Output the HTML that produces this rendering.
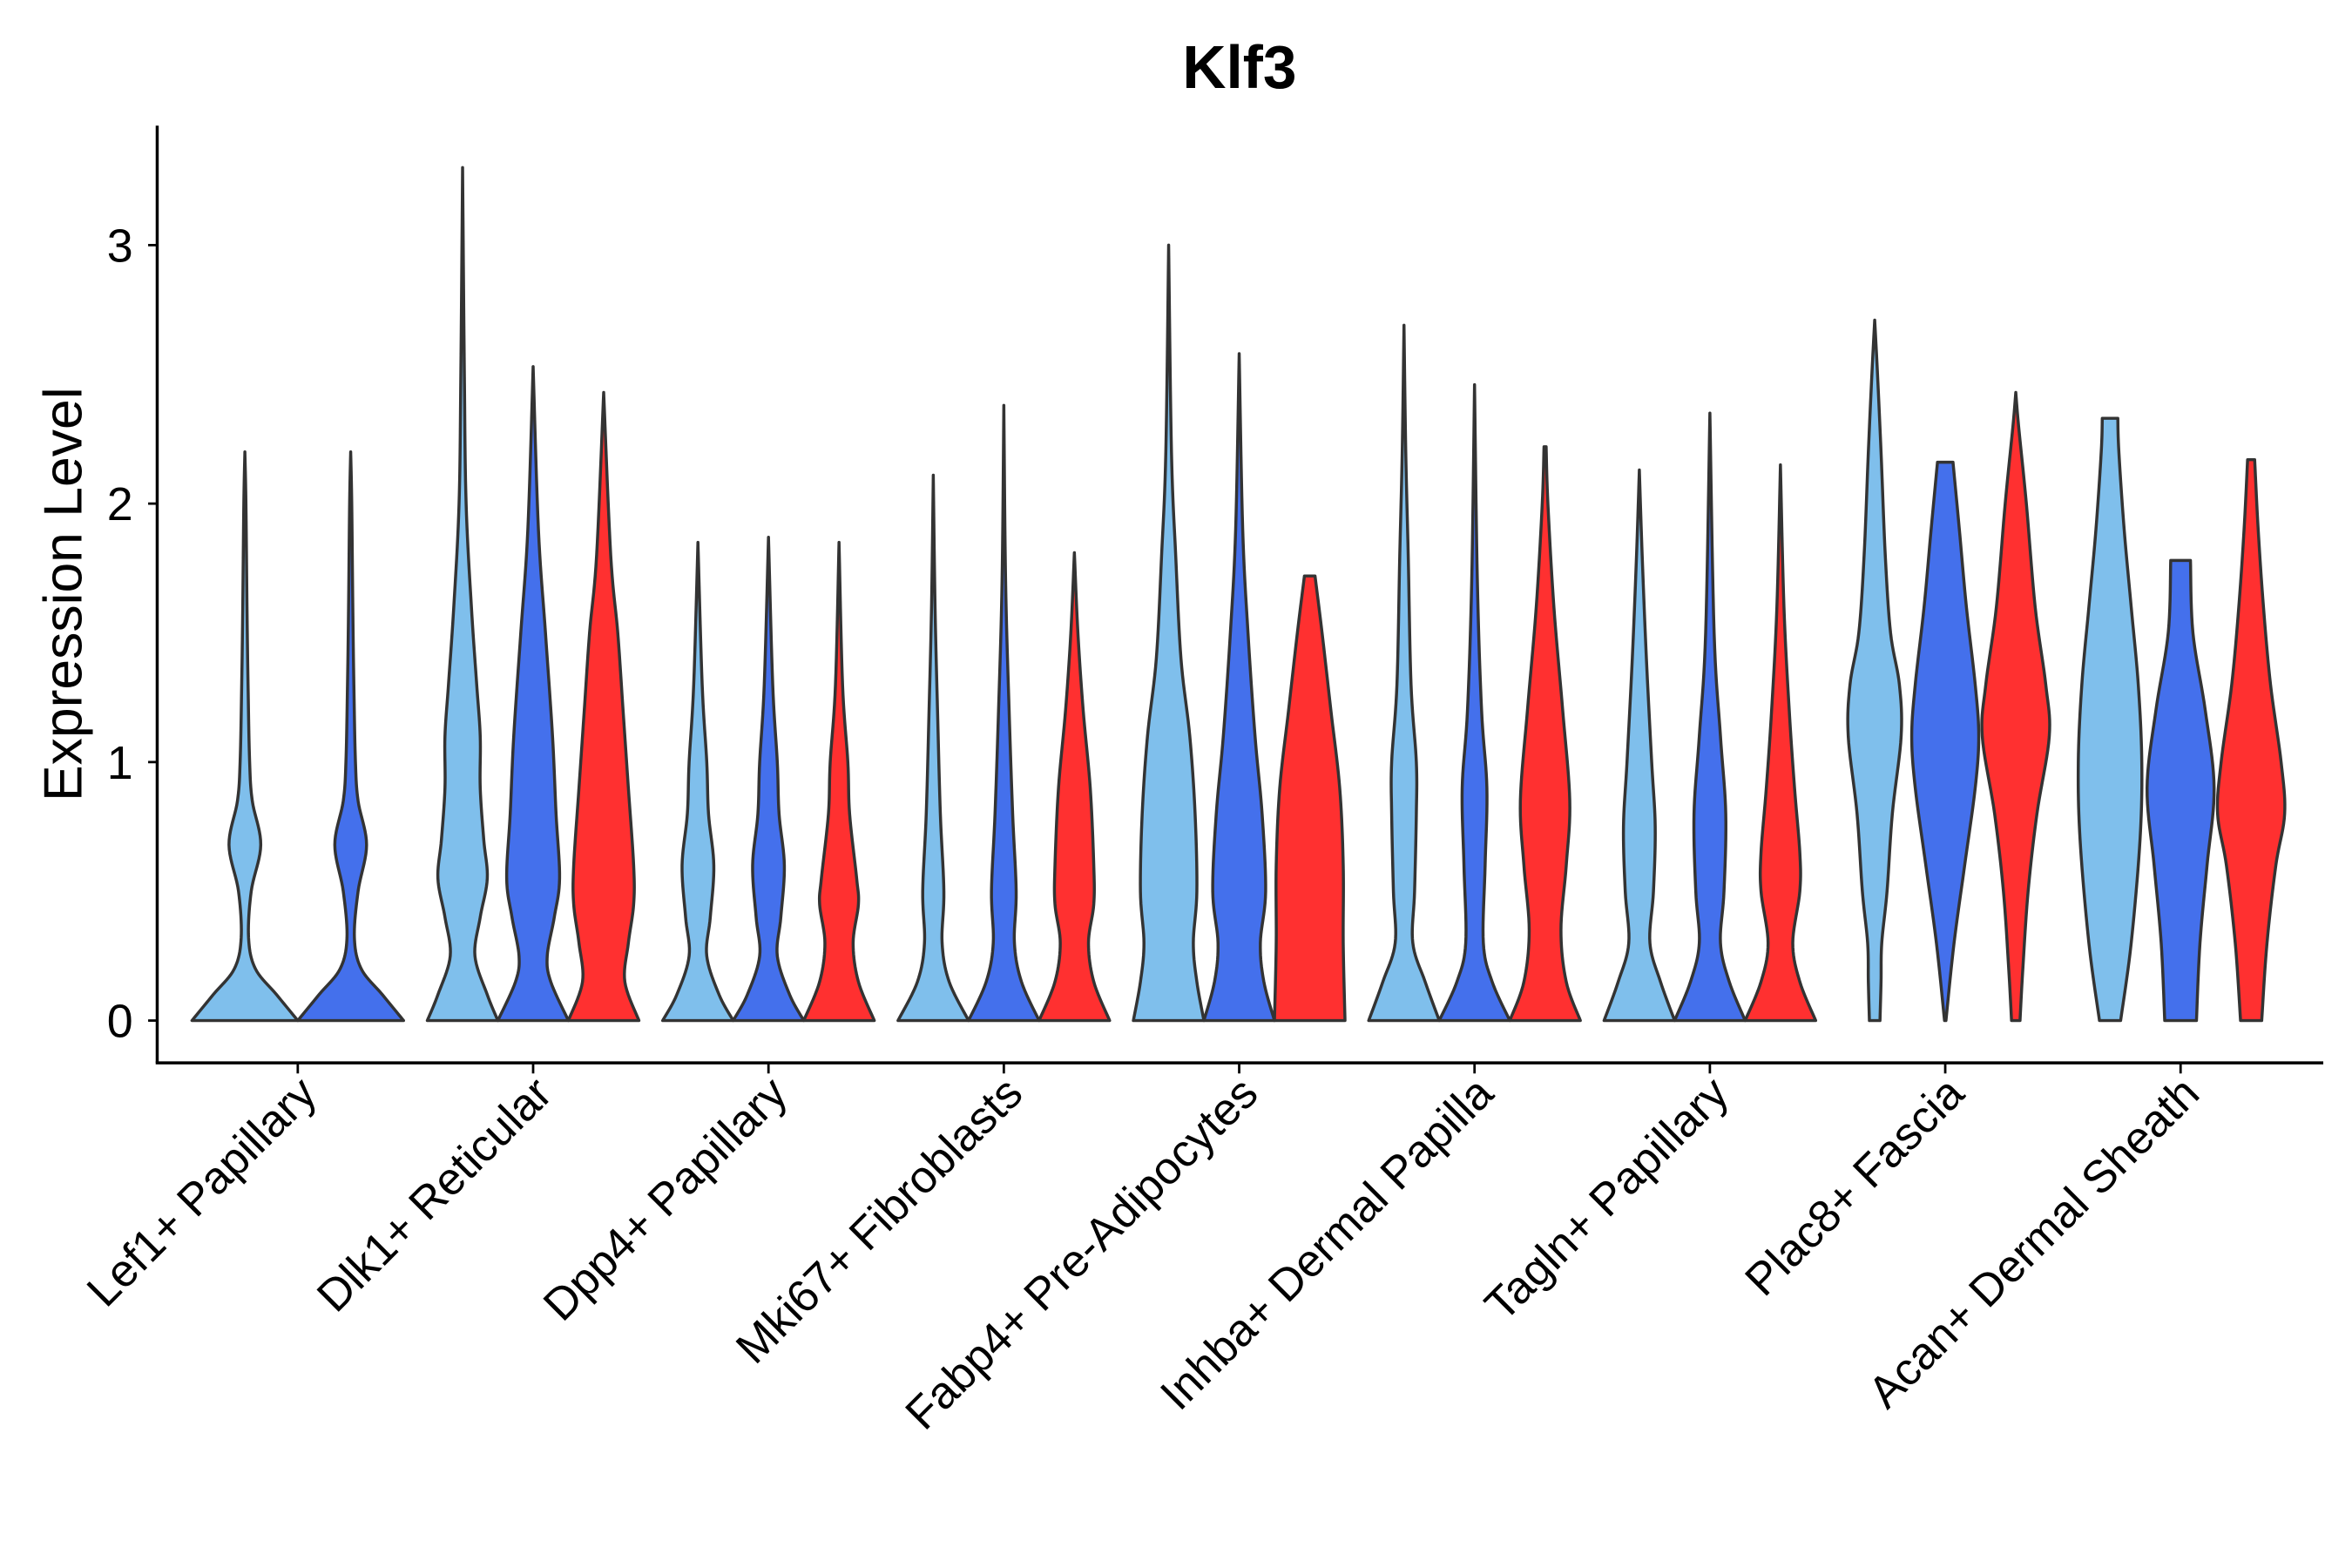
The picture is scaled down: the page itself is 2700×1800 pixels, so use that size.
<!DOCTYPE html>
<html><head><meta charset="utf-8"><style>
html,body{margin:0;padding:0;background:#fff}
svg{display:block}
text{font-family:"Liberation Sans","DejaVu Sans",sans-serif}
</style></head><body>
<svg id="chart" width="2700" height="1800" viewBox="0 0 1556 1037" xmlns="http://www.w3.org/2000/svg">
<rect width="1556" height="1037" fill="#fff"/>
<text x="820" y="58" text-anchor="middle" font-size="40" font-weight="bold">Klf3</text>
<text transform="translate(54,393) rotate(-90)" text-anchor="middle" font-size="36">Expression Level</text>
<g id="plot"></g>
</svg>
<script>
const categories = ["Lef1+ Papillary","Dlk1+ Reticular","Dpp4+ Papillary","Mki67+ Fibroblasts","Fabp4+ Pre-Adipocytes","Inhba+ Dermal Papilla","Tagln+ Papillary","Plac8+ Fascia","Acan+ Dermal Sheath"];
const seriesNames = ["light-blue","blue","red"];
const yTicks = [0,1,2,3];
// density profiles: [value, relative half-width]
const lightBlue = [
 [[0,1],[0.1,0.6],[0.2,0.2],[0.32,0.07],[0.5,0.12],[0.68,0.3],[0.85,0.14],[1.0,0.09],[1.3,0.06],[1.6,0.04],[2.0,0.02],[2.2,0]],
 [[0,1],[0.1,0.7],[0.25,0.35],[0.4,0.5],[0.55,0.7],[0.7,0.6],[0.9,0.5],[1.1,0.5],[1.3,0.4],[1.6,0.25],[2.0,0.1],[2.5,0.05],[3.3,0]],
 [[0,1],[0.1,0.6],[0.25,0.25],[0.4,0.35],[0.6,0.45],[0.8,0.3],[1.0,0.25],[1.3,0.12],[1.85,0]],
 [[0,1],[0.15,0.45],[0.3,0.25],[0.5,0.3],[0.8,0.2],[1.2,0.12],[1.6,0.05],[2.11,0]],
 [[0,1],[0.15,0.8],[0.3,0.7],[0.5,0.8],[0.8,0.75],[1.1,0.6],[1.4,0.35],[1.8,0.2],[2.2,0.08],[3.0,0]],
 [[0,1],[0.15,0.6],[0.3,0.25],[0.5,0.3],[0.8,0.35],[1.0,0.35],[1.3,0.2],[1.8,0.12],[2.2,0.05],[2.69,0]],
 [[0,1],[0.15,0.6],[0.3,0.3],[0.5,0.4],[0.75,0.45],[1.0,0.35],[1.4,0.2],[1.8,0.08],[2.13,0]],
 [[0,0.15],[0.15,0.18],[0.3,0.2],[0.5,0.35],[0.8,0.5],[1.1,0.75],[1.3,0.7],[1.5,0.45],[1.8,0.3],[2.2,0.18],[2.5,0.08],[2.71,0]],
 [[0,0.3],[0.3,0.6],[0.7,0.85],[1.0,0.9],[1.3,0.8],[1.6,0.6],[1.9,0.4],[2.2,0.25],[2.33,0.22]]
];
const blue = [
 [[0,1],[0.1,0.6],[0.2,0.2],[0.32,0.07],[0.5,0.14],[0.68,0.3],[0.85,0.14],[1.0,0.09],[1.3,0.06],[1.6,0.04],[2.0,0.02],[2.2,0]],
 [[0,1],[0.15,0.5],[0.25,0.4],[0.4,0.6],[0.55,0.75],[0.8,0.65],[1.1,0.55],[1.5,0.35],[1.9,0.15],[2.53,0]],
 [[0,1],[0.1,0.6],[0.25,0.25],[0.4,0.35],[0.6,0.45],[0.8,0.3],[1.0,0.25],[1.3,0.12],[1.87,0]],
 [[0,1],[0.15,0.5],[0.3,0.3],[0.5,0.35],[0.8,0.25],[1.2,0.15],[1.7,0.05],[2.38,0]],
 [[0,1],[0.15,0.7],[0.3,0.6],[0.5,0.75],[0.8,0.65],[1.1,0.45],[1.5,0.25],[1.9,0.1],[2.58,0]],
 [[0,1],[0.15,0.5],[0.3,0.25],[0.6,0.3],[0.9,0.35],[1.2,0.2],[1.7,0.08],[2.46,0]],
 [[0,1],[0.15,0.55],[0.3,0.3],[0.5,0.4],[0.8,0.45],[1.1,0.3],[1.5,0.12],[2.35,0]],
 [[0,0.02],[0.3,0.25],[0.6,0.55],[0.9,0.85],[1.1,0.95],[1.3,0.85],[1.6,0.6],[1.9,0.4],[2.16,0.22]],
 [[0,0.45],[0.3,0.55],[0.6,0.75],[0.9,0.95],[1.2,0.7],[1.5,0.35],[1.78,0.28]]
];
const red = [
 null,
 [[0,1],[0.15,0.6],[0.3,0.7],[0.45,0.85],[0.6,0.85],[0.9,0.7],[1.2,0.55],[1.5,0.4],[1.8,0.2],[2.43,0]],
 [[0,1],[0.15,0.55],[0.3,0.4],[0.45,0.55],[0.55,0.5],[0.8,0.3],[1.0,0.25],[1.3,0.1],[1.85,0]],
 [[0,1],[0.15,0.55],[0.3,0.4],[0.45,0.55],[0.6,0.55],[0.9,0.45],[1.2,0.25],[1.5,0.1],[1.81,0]],
 [[0,1],[0.3,0.95],[0.6,0.95],[0.9,0.85],[1.2,0.6],[1.5,0.35],[1.72,0.15]],
 [[0,1],[0.15,0.6],[0.35,0.45],[0.6,0.6],[0.85,0.7],[1.2,0.5],[1.6,0.25],[2.0,0.08],[2.22,0.03]],
 [[0,1],[0.15,0.55],[0.3,0.35],[0.5,0.55],[0.65,0.55],[0.9,0.4],[1.2,0.25],[1.6,0.1],[2.15,0]],
 [[0,0.12],[0.2,0.2],[0.5,0.35],[0.8,0.6],[1.1,0.95],[1.3,0.85],[1.6,0.55],[2.0,0.3],[2.3,0.08],[2.43,0]],
 [[0,0.3],[0.3,0.45],[0.6,0.7],[0.8,0.95],[1.0,0.85],[1.3,0.55],[1.6,0.35],[1.9,0.2],[2.17,0.1]]
];
const colors = ["#7FBFEC","#4470EC","#FF3030"];
const NS="http://www.w3.org/2000/svg";
const plot=document.getElementById('plot');
const X0=104, X1=1537, Y0=703, Ytop=83;
function yS(v){return 675 - v*171;}
function xC(i){return 197 + i*155.7;}
function mk(tag,attrs){const e=document.createElementNS(NS,tag);for(const k in attrs)e.setAttribute(k,attrs[k]);plot.appendChild(e);return e;}
function interp(pts){
  const out=[];
  for(let i=0;i<pts.length-1;i++){
    const p0=pts[Math.max(i-1,0)],p1=pts[i],p2=pts[i+1],p3=pts[Math.min(i+2,pts.length-1)];
    for(let t=0;t<1;t+=0.1){
      const t2=t*t,t3=t2*t;
      const f=(a,b,c,d)=>0.5*((2*b)+(-a+c)*t+(2*a-5*b+4*c-d)*t2+(-a+3*b-3*c+d)*t3);
      out.push([f(p0[0],p1[0],p2[0],p3[0]),Math.max(0,f(p0[1],p1[1],p2[1],p3[1]))]);
    }
  }
  out.push(pts[pts.length-1]);
  return out;
}
const all=[lightBlue,blue,red];
categories.forEach((c,i)=>{
  const present=all.map(s=>s[i]).filter(Boolean);
  const n=present.length;
  const dodge=140;
  const half=dodge/n/2;
  let k=0;
  all.forEach((s,si)=>{
    const prof=s[i]; if(!prof) return;
    const cx=xC(i)-dodge/2+half*(2*k+1); k++;
    const pts=interp(prof);
    let d="";
    pts.forEach((p,j)=>{d+=(j?"L":"M")+(cx+p[1]*half).toFixed(2)+","+yS(p[0]).toFixed(2);});
    for(let j=pts.length-1;j>=0;j--){d+="L"+(cx-pts[j][1]*half).toFixed(2)+","+yS(pts[j][0]).toFixed(2);}
    d+="Z";
    const el=mk('path',{d:d,fill:colors[si],stroke:"#333",'stroke-width':2,'stroke-linejoin':'round'});
    
    
  });
});
const ya=mk('line',{x1:X0,y1:Ytop,x2:X0,y2:Y0,stroke:"#000",'stroke-width':2});


const xa=mk('line',{x1:X0-1,y1:Y0,x2:X1,y2:Y0,stroke:"#000",'stroke-width':2});


yTicks.forEach(t=>{
  const l=mk('line',{x1:X0-6,x2:X0,y1:yS(t),y2:yS(t),stroke:"#000",'stroke-width':1.6});
  
  
  const tx=mk('text',{x:X0-16,y:yS(t)+11,'text-anchor':'end','font-size':31,fill:'#000'});
  tx.textContent=t;
  
  
});
categories.forEach((c,i)=>{
  const x=xC(i);
  const l=mk('line',{x1:x,x2:x,y1:Y0,y2:Y0+7,stroke:"#000",'stroke-width':1.6});
  
  
  const tx=mk('text',{transform:`translate(${x+14},${Y0+22}) rotate(-45)`,'text-anchor':'end','font-size':30,fill:'#000'});
  tx.textContent=c;
  
  
});
</script>
</body></html>
